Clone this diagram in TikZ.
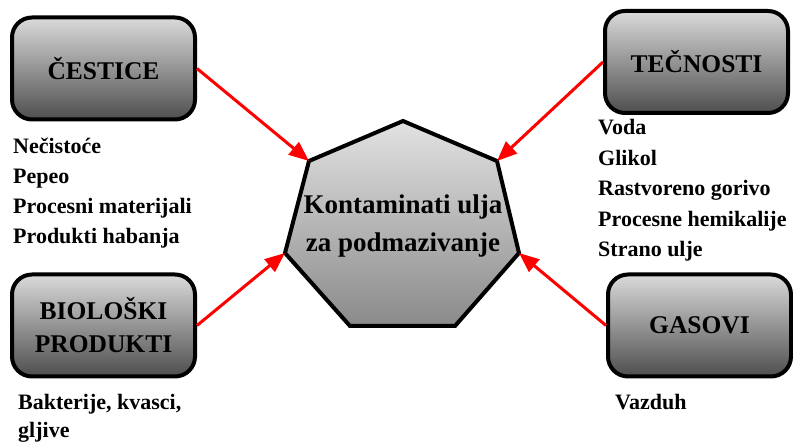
\documentclass[tikz,border=0pt]{standalone}
\usepackage{fontspec}
\setmainfont{Liberation Serif}
\usetikzlibrary{arrows.meta}
\definecolor{boxtop}{RGB}{218,218,218}
\definecolor{boxbot}{RGB}{78,78,78}
\definecolor{heptop}{RGB}{226,226,226}
\definecolor{hepbot}{RGB}{138,138,138}
\begin{document}
\begin{tikzpicture}[x=1pt,y=-1pt,
  catbox/.style={draw=black, line width=4pt, rounded corners=20pt,
    minimum width=183pt, minimum height=102pt,
    top color=boxtop, bottom color=boxbot, align=center,
    font=\fontsize{25.5}{33}\selectfont\bfseries, inner sep=0pt},
  item/.style={anchor=base west, inner sep=0pt,
    font=\fontsize{22}{30}\selectfont\bfseries},
  feed/.style={draw=red, line width=3pt, -{Triangle[length=20pt,width=16pt]}},
  hepta/.style={draw=black, line width=4pt, line join=miter,
    top color=heptop, bottom color=hepbot}
]
\useasboundingbox (0,0) rectangle (793,443);

% heptagon
\coordinate (hT)  at (403,121);
\coordinate (hUR) at (497,161);
\coordinate (hR)  at (519,253);
\coordinate (hBR) at (455,326);
\coordinate (hBL) at (350,326);
\coordinate (hL)  at (285,253);
\coordinate (hUL) at (309,161);
\shadedraw[hepta] (hT) -- (hUR) -- (hR) -- (hBR) -- (hBL) -- (hL) -- (hUL) -- cycle;
\node[align=center, inner sep=0pt, font=\fontsize{27}{38}\selectfont\bfseries]
  (kont) at (403,226) {Kontaminati ulja\\za podmazivanje};

% category boxes
\node[catbox] (ces) at (103.5,68.5)  {ČESTICE};
\node[catbox] (tec) at (696.5,62)    {TEČNOSTI};
\node[catbox] (bio) at (103.5,325.5) {BIOLOŠKI\\PRODUKTI};
\node[catbox] (gas) at (699.5,325.5) {GASOVI};

% item lists
\node[item] (c1) at (13,154) {Nečistoće};
\node[item] (c2) at (13,184) {Pepeo};
\node[item] (c3) at (13,214) {Procesni materijali};
\node[item] (c4) at (13,244) {Produkti habanja};

\node[item] (t1) at (598,135)   {Voda};
\node[item] (t2) at (598,165.5) {Glikol};
\node[item] (t3) at (598,196)   {Rastvoreno gorivo};
\node[item] (t4) at (598,226.5) {Procesne hemikalije};
\node[item] (t5) at (598,257)   {Strano ulje};

\node[item] (b1) at (18,410) {Bakterije, kvasci,};
\node[item] (b2) at (18,438) {gljive};

\node[item] (g1) at (615,410) {Vazduh};

% arrows
\draw[feed] (ces.east) -- (hUL);
\draw[feed] (tec.west) -- (hUR);
\draw[feed] (bio.east) -- (hL);
\draw[feed] (gas.west) -- (hR);
\end{tikzpicture}
\end{document}
